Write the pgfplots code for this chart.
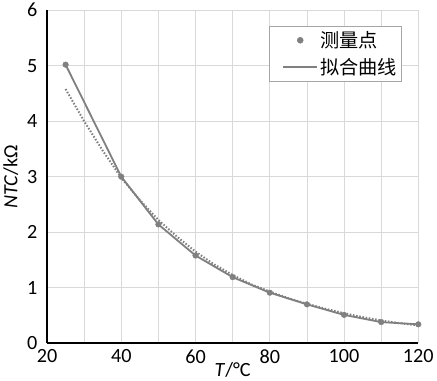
\documentclass[border=0pt]{standalone}
\usepackage{fontspec}
\setmainfont{Carlito}
\newfontfamily\cjk{Noto Sans CJK SC}
\usepackage{pgfplots}
\pgfplotsset{compat=1.18}
\definecolor{datagray}{RGB}{128,128,128}
\definecolor{gridgray}{RGB}{217,217,217}
\begin{document}
\begin{tikzpicture}
\begin{axis}[
  scale only axis,
  width=368pt, height=330pt,
  xmin=20, xmax=120, ymin=0, ymax=6,
  xtick={20,40,60,80,100,120},
  ytick={0,1,2,3,4,5,6},
  minor x tick num=1,
  major tick length=0pt, minor tick length=0pt,
  grid=both,
  major grid style={gridgray, line width=0.8pt},
  minor grid style={gridgray, line width=0.8pt},
  axis x line*=bottom, axis y line*=left,
  axis line style={black, line width=1.5pt, -},
  /pgf/number format/assume math mode=true,
  ticklabel style={font=\fontsize{20}{24}\selectfont},
  xticklabel style={yshift=-3pt},
  yticklabel style={xshift=-6pt},
  xlabel={\textit{T}/°C},
  ylabel={\textit{NTC}/kΩ},
  label style={font=\fontsize{20}{24}\selectfont},
  xlabel style={yshift=8pt},
  ylabel style={yshift=2pt},
  legend style={at={(0.954,0.952)}, anchor=north east, draw=gray!70, fill=white,
    font=\fontsize{19}{22}\selectfont\cjk, inner xsep=2pt, inner ysep=3pt,
    row sep=5pt,
    /tikz/every even column/.append style={column sep=2pt},
    legend cell align=left},
  legend image code/.code={\path (0pt,0pt); \draw[#1] (11pt,0pt) -- (45pt,0pt);},
]
\addplot[datagray, line width=2pt, dash pattern=on 1.5pt off 1.7pt, forget plot] coordinates {
(25,4.58) (30,4.00) (35,3.47) (40,2.98) (45,2.58) (50,2.22) (55,1.92) (60,1.65)
(65,1.42) (70,1.23) (75,1.06) (80,0.93) (85,0.81) (90,0.71) (95,0.62) (100,0.54)
(105,0.47) (110,0.41) (115,0.36) (120,0.32)};
\addplot[datagray, only marks, mark=*, mark size=2.8pt,
  legend image code/.code={\path (0pt,0pt) (45pt,0pt); \fill[datagray] (28pt,0pt) circle (3pt);}] coordinates {
(25,5.02) (40,3.00) (50,2.14) (60,1.58) (70,1.19) (80,0.91) (90,0.70) (100,0.51) (110,0.38) (120,0.34)};
\addlegendentry{测量点}
\addplot[datagray, line width=1.8pt] coordinates {
(25,5.02) (40,3.00) (50,2.14) (60,1.58) (70,1.19) (80,0.91) (90,0.70) (100,0.51) (110,0.38) (120,0.34)};
\addlegendentry{拟合曲线}
\end{axis}
\end{tikzpicture}
\end{document}
